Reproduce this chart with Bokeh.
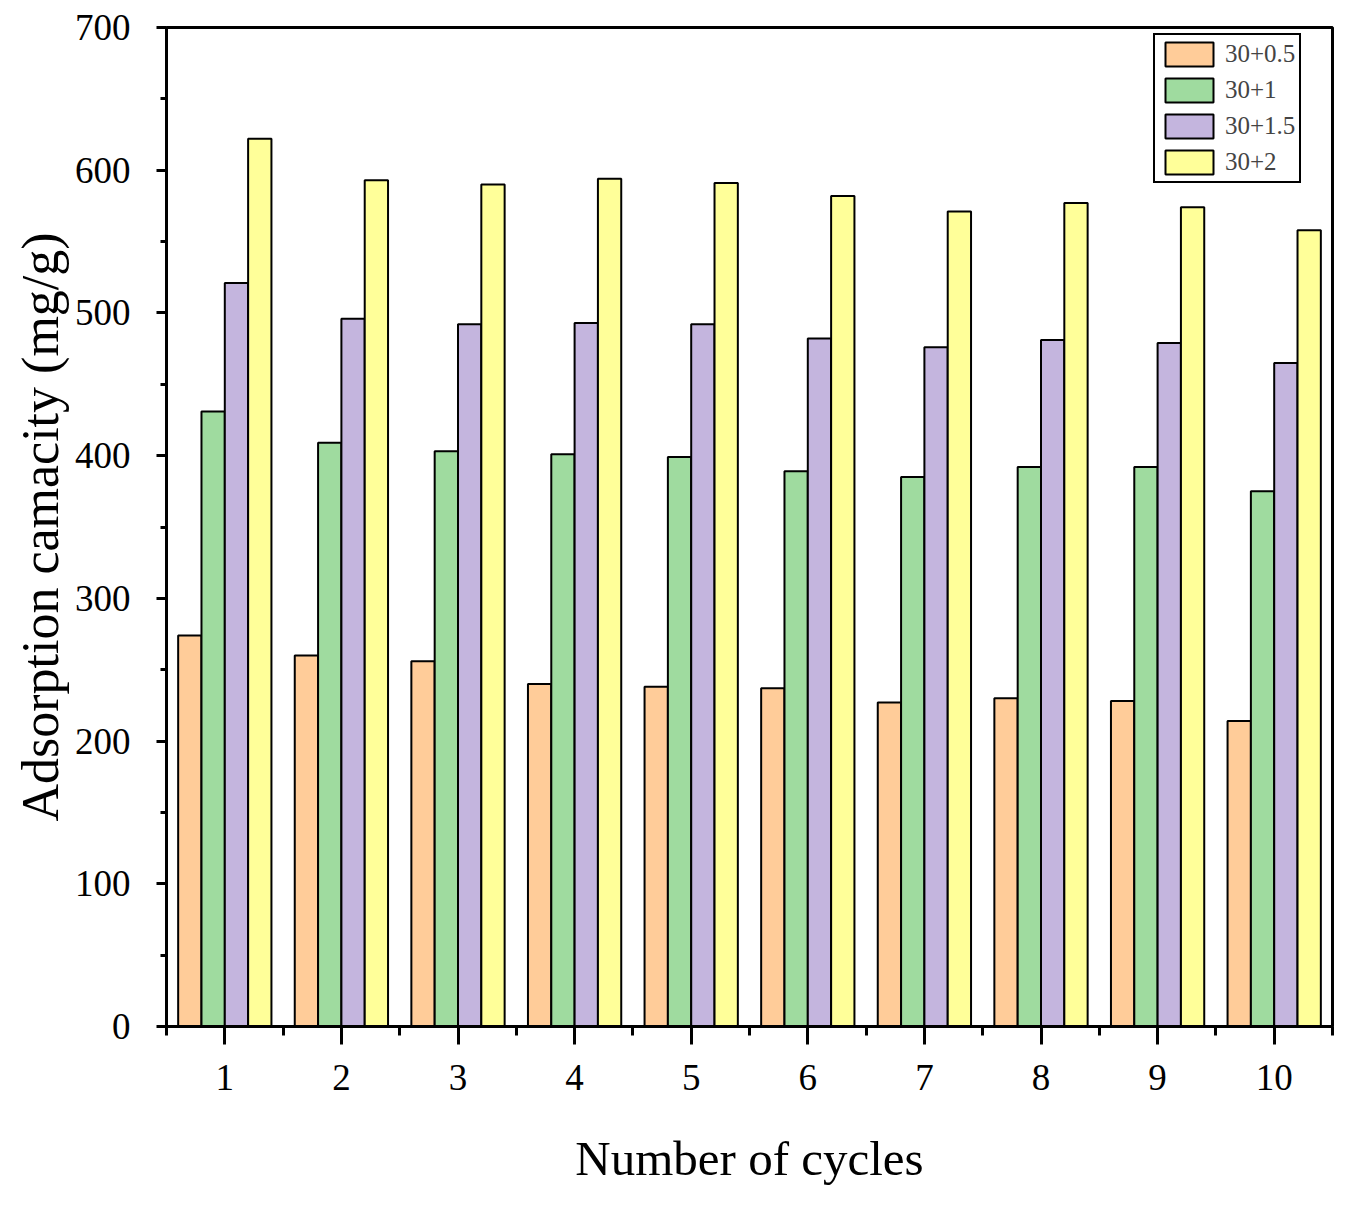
from bokeh.plotting import figure
from bokeh.models import ColumnDataSource, FixedTicker, Legend, LegendItem, Range1d
from bokeh.transform import dodge
from bokeh.embed import file_html
from bokeh.resources import INLINE

cycles = [1, 2, 3, 4, 5, 6, 7, 8, 9, 10]
s_05 = [274, 260, 256, 240, 238, 237, 227, 230, 228, 214]
s_1 = [431, 409, 403, 401, 399, 389, 385, 392, 392, 375]
s_15 = [521, 496, 492, 493, 492, 482, 476, 481, 479, 465]
s_2 = [622, 593, 590, 594, 591, 582, 571, 577, 574, 558]
series_names = ["30+0.5", "30+1", "30+1.5", "30+2"]
colors = ["#FFCC99", "#9FDB9F", "#C4B5DE", "#FFFF99"]
offsets = [-0.3, -0.1, 0.1, 0.3]

src = ColumnDataSource(dict(x=cycles, a=s_05, b=s_1, c=s_15, d=s_2))

FONT = "Liberation Serif"
p = figure(width=1340, height=1190, output_backend="svg", toolbar_location=None,
           x_range=Range1d(0.5, 10.5), y_range=Range1d(0, 700),
           min_border_left=166, min_border_right=8, min_border_top=27, min_border_bottom=164)
p.background_fill_color = "white"
p.border_fill_color = "white"
p.xgrid.visible = False
p.ygrid.visible = False
p.outline_line_color = "black"
p.outline_line_width = 3
p.outline_line_alpha = 1

items = []
for col, name, color, off in zip(["a", "b", "c", "d"], series_names, colors, offsets):
    r = p.vbar(x=dodge("x", off, range=p.x_range), top=col, width=0.2, source=src,
               fill_color=color, line_color="black", line_width=2)
    items.append(LegendItem(label=name, renderers=[r]))

p.xaxis.ticker = FixedTicker(ticks=cycles, minor_ticks=[c - 0.5 for c in cycles] + [10.5])
p.yaxis.ticker = FixedTicker(ticks=list(range(0, 701, 100)), minor_ticks=list(range(50, 700, 100)))

for ax in (p.xaxis[0], p.yaxis[0]):
    ax.axis_line_width = 3
    ax.axis_line_color = "black"
    ax.major_tick_line_width = 3
    ax.minor_tick_line_width = 3
    ax.major_tick_out = 18
    ax.major_tick_in = 0
    ax.minor_tick_out = 9
    ax.minor_tick_in = 0
    ax.major_label_text_font = FONT
    ax.major_label_text_font_size = "37px"
    ax.major_label_text_color = "black"
    ax.axis_label_text_font = FONT
    ax.axis_label_text_font_style = "normal"
    ax.axis_label_text_color = "black"

p.xaxis.axis_label_text_font_size = "49px"
p.yaxis.axis_label_text_font_size = "52px"
p.yaxis.major_tick_out = 10
p.yaxis.minor_tick_out = 6
p.yaxis.major_label_standoff = 26
p.xaxis.major_label_standoff = 20
p.xaxis.axis_label = "Number of cycles"
p.yaxis.axis_label = "Adsorption camacity (mg/g)"
p.xaxis.axis_label_standoff = 38
p.yaxis.axis_label_standoff = 3

legend = Legend(items=items, location=(987, 843), orientation="vertical",
                glyph_width=60, glyph_height=30, label_height=30, spacing=6,
                padding=4, margin=0, label_standoff=6,
                label_text_font=FONT, label_text_font_size="25px",
                border_line_color="black", border_line_width=2, border_line_alpha=1,
                background_fill_color="white", background_fill_alpha=1)
p.add_layout(legend, "center")

open("out.html", "w").write(file_html(p, INLINE))
